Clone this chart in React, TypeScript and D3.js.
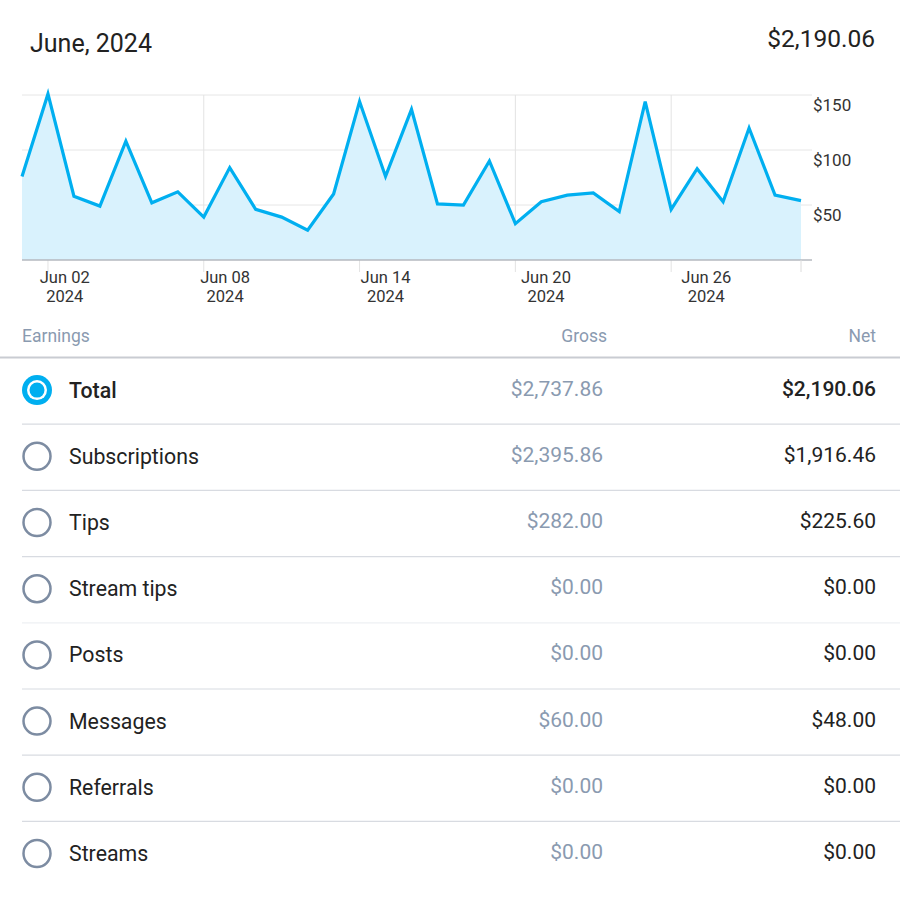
import React from "react";
import * as d3 from "d3";

const days: string[] = [
  "2024-06-01","2024-06-02","2024-06-03","2024-06-04","2024-06-05","2024-06-06","2024-06-07","2024-06-08",
  "2024-06-09","2024-06-10","2024-06-11","2024-06-12","2024-06-13","2024-06-14","2024-06-15","2024-06-16",
  "2024-06-17","2024-06-18","2024-06-19","2024-06-20","2024-06-21","2024-06-22","2024-06-23","2024-06-24",
  "2024-06-25","2024-06-26","2024-06-27","2024-06-28","2024-06-29","2024-06-30","2024-07-01",
];
const netValues: number[] = [
  76, 151, 58, 49, 108, 52, 62, 39, 84, 46, 39, 27, 60, 144, 76, 137,
  51, 50, 90, 33, 53, 59, 61, 44, 144, 46, 83, 53, 120, 59, 54,
];
const xTickDays: string[] = ["2024-06-02", "2024-06-08", "2024-06-14", "2024-06-20", "2024-06-26"];
const yTicks: number[] = [50, 100, 150];

const categories: string[] = ["Total", "Subscriptions", "Tips", "Stream tips", "Posts", "Messages", "Referrals", "Streams"];
const grossValues: string[] = ["$2,737.86", "$2,395.86", "$282.00", "$0.00", "$0.00", "$60.00", "$0.00", "$0.00"];
const netTotals: string[] = ["$2,190.06", "$1,916.46", "$225.60", "$0.00", "$0.00", "$48.00", "$0.00", "$0.00"];

const title = "June, 2024";
const headline = "$2,190.06";

const FONT = "Roboto, 'Noto Sans', sans-serif";

export default function App() {
  const parse = d3.timeParse("%Y-%m-%d");
  const data = days.map((d, i) => ({ date: parse(d) as Date, v: netValues[i] }));
  const x = d3.scaleTime()
    .domain([data[0].date, data[data.length - 1].date])
    .range([22, 801]);
  // tick labels are spread slightly wider than the plotted days
  const xl = d3.scaleTime()
    .domain([data[0].date, data[data.length - 1].date])
    .range([38, 840]);
  const y = d3.scaleLinear().domain([0, 150]).range([260, 95]);

  const area = d3.area<{ date: Date; v: number }>()
    .x((d) => x(d.date))
    .y0(y(0))
    .y1((d) => y(d.v));
  const line = d3.line<{ date: Date; v: number }>()
    .x((d) => x(d.date))
    .y((d) => y(d.v));

  const fmtA = d3.timeFormat("%b %d");
  const fmtB = d3.timeFormat("%Y");

  const rowTop = 358;
  const rowH = 66.2;

  return (
    <svg
      width={900}
      height={900}
      style={{ position: "absolute", left: 0, top: 0, background: "#fff" }}
      fontFamily={FONT}
    >
      <rect x={0} y={0} width={900} height={900} fill="#fff" />
      <text x={30} y={52} fontSize={25} fill="#222">{title}</text>
      <text x={875} y={47} fontSize={24.5} fill="#222" textAnchor="end">{headline}</text>

      {yTicks.map((t) => (
        <line key={"g" + t} x1={22} x2={812} y1={y(t)} y2={y(t)} stroke="#e6e6e6" strokeWidth={1} />
      ))}
      {xTickDays.map((d) => {
        const xx = x(parse(d) as Date);
        return <line key={"v" + d} x1={xx} x2={xx} y1={95} y2={272} stroke="#e3e3e3" strokeWidth={1} />;
      })}
      <path d={area(data) || ""} fill="#d9f2fd" />
      <path d={line(data) || ""} fill="none" stroke="#00aff0" strokeWidth={3.2} strokeLinejoin="miter" />
      <line x1={22} x2={812} y1={y(0)} y2={y(0)} stroke="#b5b9bf" strokeWidth={1.5} />
      <line x1={x(data[data.length - 1].date)} x2={x(data[data.length - 1].date)} y1={y(0)} y2={272} stroke="#dcdcdc" strokeWidth={1} />

      {yTicks.map((t) => (
        <text key={"yl" + t} x={813} y={y(t) + 16} fontSize={17} fill="#333">{"$" + t}</text>
      ))}
      {xTickDays.map((d) => {
        const dt = parse(d) as Date;
        const xx = xl(dt);
        return (
          <g key={"xl" + d}>
            <text x={xx} y={283} fontSize={16.5} fill="#333" textAnchor="middle">{fmtA(dt)}</text>
            <text x={xx} y={302} fontSize={16.5} fill="#333" textAnchor="middle">{fmtB(dt)}</text>
          </g>
        );
      })}

      <text x={22} y={342} fontSize={17.5} fill="#8a9ab0">Earnings</text>
      <text x={607} y={342} fontSize={17.5} fill="#8a9ab0" textAnchor="end">Gross</text>
      <text x={876} y={342} fontSize={17.5} fill="#8a9ab0" textAnchor="end">Net</text>
      <line x1={0} x2={900} y1={357.5} y2={357.5} stroke="#c9ccd2" strokeWidth={2} />

      {categories.map((c, i) => {
        const cy = rowTop + rowH * i + rowH / 2;
        const sel = i === 0;
        return (
          <g key={c}>
            {i > 0 && (
              <line
                x1={22}
                x2={900}
                y1={rowTop + rowH * i}
                y2={rowTop + rowH * i}
                stroke={i === 4 ? "#eef0f3" : "#d8dbe1"}
                strokeWidth={1.2}
              />
            )}
            {sel ? (
              <g>
                <circle cx={37} cy={cy - 1} r={15} fill="#00aff0" />
                <circle cx={37} cy={cy - 1} r={10} fill="#fff" />
                <circle cx={37} cy={cy - 1} r={7.5} fill="#00aff0" />
              </g>
            ) : (
              <circle cx={37} cy={cy - 1} r={13.5} fill="none" stroke="#7d8ca2" strokeWidth={2.5} />
            )}
            <text x={69} y={cy + 6.5} fontSize={21.3} fill="#222" fontWeight={sel ? 500 : 400}>{c}</text>
            <text x={603} y={cy + 4.5} fontSize={21} fill="#8a9ab0" textAnchor="end">{grossValues[i]}</text>
            <text x={876} y={cy + 4.5} fontSize={21} fill="#222" textAnchor="end" fontWeight={sel ? 500 : 400}>{netTotals[i]}</text>
          </g>
        );
      })}
    </svg>
  );
}
